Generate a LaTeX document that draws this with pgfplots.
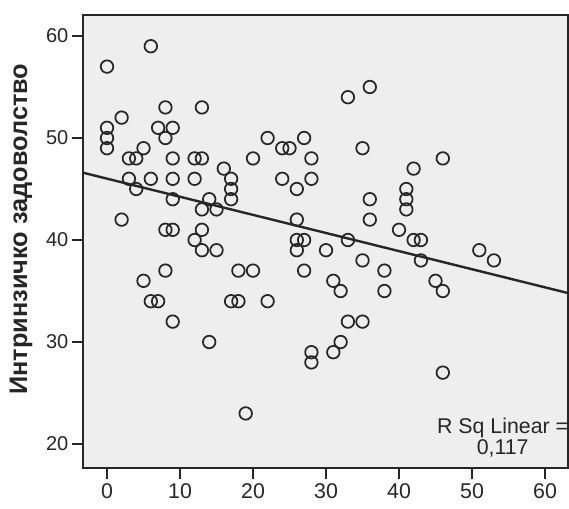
\documentclass[border=0pt]{standalone}
\usepackage{fontspec}
\setmainfont{Liberation Sans}
\usepackage{pgfplots}
\pgfplotsset{compat=1.18}
\definecolor{bgc}{RGB}{238,238,238}
\definecolor{ink}{RGB}{38,38,38}

\begin{document}
\begin{tikzpicture}
  \begin{axis}[at={(0,0)},anchor=south west,
      scale only axis,width=363.75pt,height=339.75pt,
      xmin=-3.29,xmax=63.15,ymin=17.65,ymax=62.06,
      xtick={0,10,...,60},ytick={20,30,...,60},
      xtick pos=left,ytick pos=left,
      axis background/.style={fill=bgc},
      axis line style={ink,line width=1.4pt},
      tick align=outside,major tick length=8.5pt,
      tick style={ink,line width=1.5pt},
      /pgf/number format/assume math mode=true,
      xticklabel style={font=\fontsize{16}{19}\selectfont,text=ink},
      yticklabel style={font=\fontsize{15}{18}\selectfont,text=ink,xshift=1pt},
      ylabel={Интринзичко задоволство},
      ylabel style={font=\fontsize{19}{22}\selectfont\bfseries,text=ink,
        at={(axis description cs:-0.128,0.527)},anchor=center}]
    \addplot[only marks,mark=o,mark size=4.7pt,
      mark options={line width=1.3pt,draw=ink}] table {
      x y
      0 57
      6 59
      8 53
      13 53
      2 52
      0 51
      0 50
      0 49
      7 51
      9 51
      8 50
      5 49
      3 48
      4 48
      9 48
      12 48
      13 48
      20 48
      16 47
      3 46
      6 46
      9 46
      12 46
      17 46
      17 45
      17 44
      4 45
      9 44
      14 44
      13 43
      15 43
      2 42
      8 41
      9 41
      13 41
      12 40
      13 39
      15 39
      8 37
      5 36
      18 37
      20 37
      6 34
      7 34
      17 34
      18 34
      9 32
      14 30
      19 23
      36 55
      33 54
      22 50
      27 50
      24 49
      25 49
      35 49
      28 48
      42 47
      24 46
      28 46
      26 45
      41 45
      41 44
      41 43
      36 44
      36 42
      26 42
      40 41
      42 40
      43 40
      26 40
      27 40
      33 40
      30 39
      51 39
      26 39
      27 37
      35 38
      38 37
      38 35
      31 36
      32 35
      22 34
      33 32
      35 32
      32 30
      31 29
      28 29
      28 28
      43 38
      53 38
      45 36
      46 35
      46 27
      46 48
    };
    \addplot[ink,line width=1.8pt] coordinates {(-3.29,46.6) (63.15,34.8)};
    \node[align=center,font=\fontsize{16}{16}\selectfont,text=ink,inner sep=0pt]
      at (axis cs:54.2,20.6) {R Sq Linear =\\0,117};
  \end{axis}
  \pgfresetboundingbox
  \path[use as bounding box] (-62.25pt,-30.75pt) rectangle (364.5pt,351pt);
\end{tikzpicture}
\end{document}
